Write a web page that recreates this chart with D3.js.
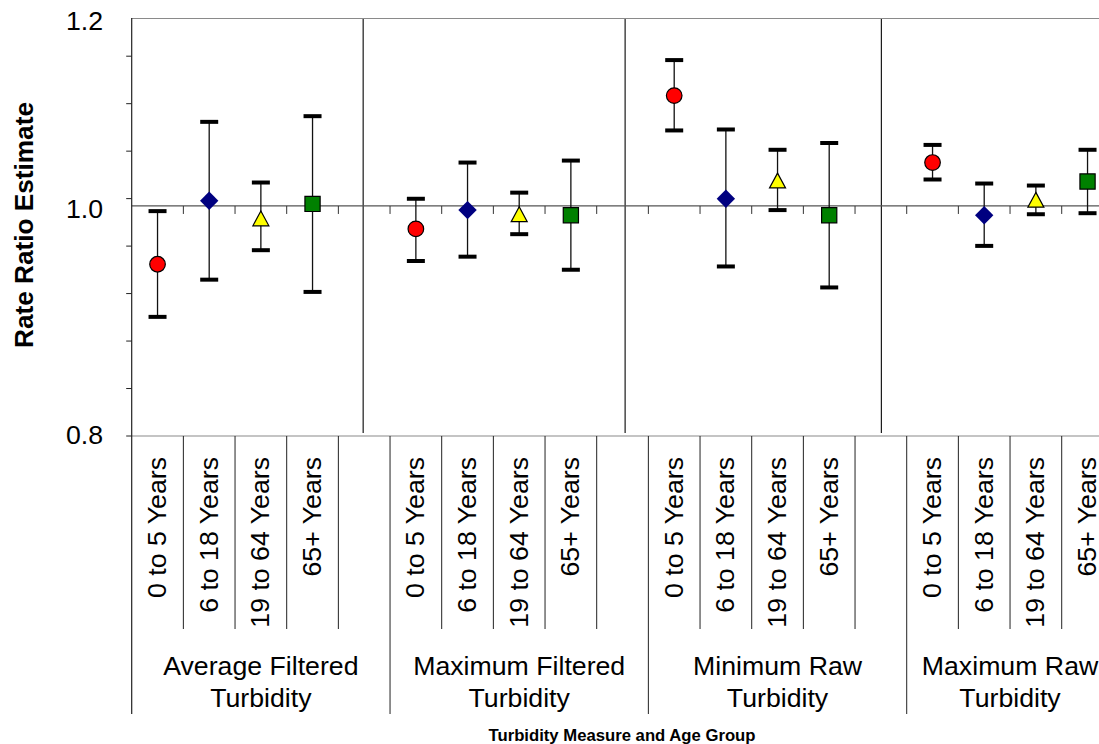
<!DOCTYPE html>
<html>
<head>
<meta charset="utf-8">
<script src="https://cdn.jsdelivr.net/npm/d3@7"></script>
<style>
  html, body { margin: 0; padding: 0; background: #fff; overflow: hidden; }
  svg { display: block; font-family: "Liberation Sans", Arial, sans-serif; }
</style>
</head>
<body>
<svg id="chart" width="1099" height="744"></svg>
<script>
// Turbidity measures (outer category level), each split over two lines
const measures = [
  ["Average Filtered", "Turbidity"],
  ["Maximum Filtered", "Turbidity"],
  ["Minimum Raw", "Turbidity"],
  ["Maximum Raw", "Turbidity"]
];
// Age groups (inner category level)
const ageGroups = ["0 to 5 Years", "6 to 18 Years", "19 to 64 Years", "65+ Years"];

// Rate ratio estimates and 95% confidence limits, one entry per turbidity measure
const est0to5   = [0.945, 0.978, 1.113, 1.043];
const lo0to5    = [0.898, 0.948, 1.076, 1.026];
const hi0to5    = [0.995, 1.007, 1.152, 1.061];

const est6to18  = [1.005, 0.996, 1.007, 0.991];
const lo6to18   = [0.931, 0.952, 0.943, 0.962];
const hi6to18   = [1.085, 1.043, 1.077, 1.022];

const est19to64 = [0.988, 0.992, 1.025, 1.006];
const lo19to64  = [0.958, 0.973, 0.996, 0.992];
const hi19to64  = [1.023, 1.013, 1.056, 1.020];

const est65     = [1.002, 0.991, 0.991, 1.024];
const lo65      = [0.920, 0.940, 0.924, 0.993];
const hi65      = [1.091, 1.045, 1.063, 1.056];

// Value axis labels
const yLabels = [0.8, 1.0, 1.2];
// Reference level where the inner category axis crosses
const refValue = 1.0;
// Divider lines between measures, in category-slot units
const dividerSlots = [4.48, 9.55, 14.51];

const series = [
  { name: ageGroups[0], est: est0to5,   lo: lo0to5,   hi: hi0to5,   shape: "circle",   fill: "#ff0000" },
  { name: ageGroups[1], est: est6to18,  lo: lo6to18,  hi: hi6to18,  shape: "diamond",  fill: "#000080" },
  { name: ageGroups[2], est: est19to64, lo: lo19to64, hi: hi19to64, shape: "triangle", fill: "#ffff00" },
  { name: ageGroups[3], est: est65,     lo: lo65,     hi: hi65,     shape: "square",   fill: "#008000" }
];

// Build the slot list: 4 age groups per measure, plus an empty spacer after every measure but the last
const slots = [];
measures.forEach((m, gi) => {
  ageGroups.forEach((a, ai) => slots.push({ group: gi, age: ai, label: a }));
  if (gi < measures.length - 1) slots.push({ group: gi, age: -1, label: "" });
});

const svg = d3.select("#chart");
const plotLeft = 131.7, plotTop = 18, plotBottom = 436;
const slotW = 51.667;
const labelSize = "26.7px";

const x = d3.scaleBand()
  .domain(d3.range(slots.length))
  .range([plotLeft, plotLeft + slots.length * slotW])
  .paddingInner(0).paddingOuter(0);
const xPos = s => plotLeft + s * slotW;   // continuous slot coordinate

const y = d3.scaleLog().domain([0.8, 1.2]).range([plotBottom, plotTop]);

// ---- plot frame ----
svg.append("line")
  .attr("x1", plotLeft).attr("x2", 1099).attr("y1", plotTop + 0.5).attr("y2", plotTop + 0.5)
  .attr("stroke", "#8a8a8a").attr("stroke-width", 1.2);
svg.append("line")
  .attr("x1", plotLeft).attr("x2", 1099).attr("y1", plotBottom).attr("y2", plotBottom)
  .attr("stroke", "#8a8a8a").attr("stroke-width", 1.2);

// Minor ticks on the value axis, evenly spaced in log units
const minorTicks = d3.range(0, 9).map(k => 0.8 * Math.pow(10, 0.02 * k));
svg.append("g").selectAll("line").data(minorTicks).join("line")
  .attr("x1", plotLeft - 5.5).attr("x2", plotLeft)
  .attr("y1", d => y(d)).attr("y2", d => y(d))
  .attr("stroke", "#222").attr("stroke-width", 1);

svg.append("g").selectAll("text").data(yLabels).join("text")
  .attr("x", 103).attr("y", d => y(d) + (d === 0.8 ? 7.5 : 12))
  .attr("text-anchor", "end")
  .attr("font-size", labelSize).attr("fill", "#000")
  .text(d => d3.format(".1f")(d));

// Dividers between measures inside the plot
svg.append("g").selectAll("line").data(dividerSlots).join("line")
  .attr("x1", d => xPos(d)).attr("x2", d => xPos(d))
  .attr("y1", plotTop + 1).attr("y2", plotBottom - 3)
  .attr("stroke", "#1a1a1a").attr("stroke-width", 1.2);

// Horizontal reference axis at 1.0 with tick marks at slot boundaries
const yRef = y(refValue);
svg.append("line")
  .attr("x1", plotLeft).attr("x2", 1099).attr("y1", yRef).attr("y2", yRef)
  .attr("stroke", "#555").attr("stroke-width", 1.3);
svg.append("g").selectAll("line").data(d3.range(1, slots.length + 1)).join("line")
  .attr("x1", d => xPos(d)).attr("x2", d => xPos(d))
  .attr("y1", yRef).attr("y2", yRef + 8)
  .attr("stroke", "#333").attr("stroke-width", 1);

// Value axis line, continuing down through the category area
svg.append("line")
  .attr("x1", plotLeft).attr("x2", plotLeft).attr("y1", plotTop).attr("y2", 714)
  .attr("stroke", "#222").attr("stroke-width", 1.2);

// ---- multi-level category axis ----
const boundaries = d3.range(1, slots.length + 1);
svg.append("g").selectAll("line").data(boundaries).join("line")
  .attr("x1", d => xPos(d)).attr("x2", d => xPos(d))
  .attr("y1", plotBottom)
  .attr("y2", d => (d % 5 === 0 ? 714 : 629))
  .attr("stroke", "#222").attr("stroke-width", 1);

svg.append("defs").append("clipPath").attr("id", "catClip")
  .append("rect").attr("x", plotLeft).attr("y", plotBottom)
  .attr("width", 1099 - plotLeft).attr("height", 629 - plotBottom);

svg.append("g").attr("clip-path", "url(#catClip)")
  .selectAll("text").data(slots.map((s, i) => ({ ...s, i })).filter(s => s.label)).join("text")
  .attr("transform", d => `translate(${x(d.i) + x.bandwidth() / 2 + 8.6},457) rotate(-90)`)
  .attr("text-anchor", "end")
  .attr("font-size", labelSize).attr("fill", "#000")
  .text(d => d.label);

const groupSpans = measures.map((m, gi) => {
  const idx = slots.map((s, i) => (s.group === gi ? i : -1)).filter(i => i >= 0);
  return { lines: m, cx: (xPos(d3.min(idx)) + xPos(d3.max(idx) + 1)) / 2 };
});
const gLabels = svg.append("g").selectAll("text").data(groupSpans).join("text")
  .attr("text-anchor", "middle")
  .attr("font-size", labelSize).attr("fill", "#000");
gLabels.append("tspan").attr("x", d => d.cx).attr("y", 675).text(d => d.lines[0]);
gLabels.append("tspan").attr("x", d => d.cx).attr("y", 707).text(d => d.lines[1]);

// Axis titles
svg.append("text")
  .attr("transform", "translate(33,225) rotate(-90)")
  .attr("text-anchor", "middle")
  .attr("font-size", "26.2px").attr("font-weight", "bold").attr("fill", "#000")
  .text("Rate Ratio Estimate");

svg.append("text")
  .attr("x", 622).attr("y", 741)
  .attr("text-anchor", "middle")
  .attr("font-size", "16.7px").attr("font-weight", "bold").attr("fill", "#000")
  .text("Turbidity Measure and Age Group");

// ---- error bars and markers ----
const points = [];
series.forEach((s, ai) => {
  s.est.forEach((v, gi) => {
    const i = slots.findIndex(sl => sl.group === gi && sl.age === ai);
    points.push({ i, est: v, lo: s.lo[gi], hi: s.hi[gi], shape: s.shape, fill: s.fill });
  });
});
const cxOf = d => x(d.i) + x.bandwidth() / 2;

const bars = svg.append("g");
bars.selectAll("line.stem").data(points).join("line")
  .attr("class", "stem")
  .attr("x1", cxOf).attr("x2", cxOf)
  .attr("y1", d => y(d.hi)).attr("y2", d => y(d.lo))
  .attr("stroke", "#111").attr("stroke-width", 1.3);
bars.selectAll("line.capHi").data(points).join("line")
  .attr("class", "capHi")
  .attr("x1", d => cxOf(d) - 9).attr("x2", d => cxOf(d) + 9)
  .attr("y1", d => y(d.hi)).attr("y2", d => y(d.hi))
  .attr("stroke", "#000").attr("stroke-width", 4);
bars.selectAll("line.capLo").data(points).join("line")
  .attr("class", "capLo")
  .attr("x1", d => cxOf(d) - 9).attr("x2", d => cxOf(d) + 9)
  .attr("y1", d => y(d.lo)).attr("y2", d => y(d.lo))
  .attr("stroke", "#000").attr("stroke-width", 4);

const shapePath = {
  circle: d3.symbol(d3.symbolCircle, Math.PI * 7.8 * 7.8)(),
  square: "M-7.6,-7.6H7.6V7.6H-7.6Z",
  diamond: "M0,-9.2L9.2,0L0,9.2L-9.2,0Z",
  triangle: "M0,-7.4L8,7.4L-8,7.4Z"
};
svg.append("g").selectAll("path").data(points).join("path")
  .attr("transform", d => `translate(${cxOf(d)},${y(d.est)})`)
  .attr("d", d => shapePath[d.shape])
  .attr("fill", d => d.fill)
  .attr("stroke", d => (d.shape === "diamond" ? "none" : "#000"))
  .attr("stroke-width", 1.2);
</script>
</body>
</html>
